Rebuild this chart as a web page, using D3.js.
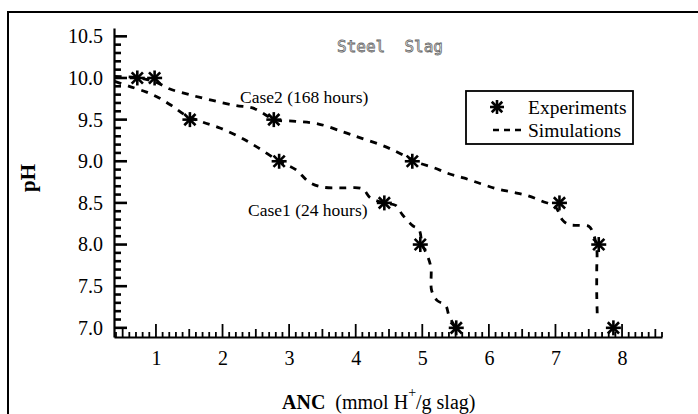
<!DOCTYPE html>
<html>
<head>
<meta charset="utf-8">
<script src="https://cdn.jsdelivr.net/npm/d3@7"></script>
<style>
	body { margin: 0; background: #fff; }
	svg { display: block; font-family: 'Liberation Serif', 'Times New Roman', serif; }
</style>
</head>
<body>
<div id="chart"></div>
<script>
// measured points (ANC, pH)
const case1Experiments = [[0.72, 10.0], [1.51, 9.5], [2.85, 9.0], [4.43, 8.5], [4.97, 8.0], [5.51, 7.0]];
const case2Experiments = [[0.98, 10.0], [2.77, 9.5], [4.85, 9.0], [7.06, 8.5], [7.65, 8.0], [7.87, 7.0]];

// simulated curves
const case1Simulation = [
	[0.38, 9.96], [0.6, 9.9], [0.86, 9.83], [1.05, 9.76], [1.25, 9.66], [1.45, 9.55],
	[1.7, 9.47], [1.96, 9.4], [2.26, 9.29], [2.52, 9.17], [2.85, 9.0], [3.1, 8.9],
	[3.3, 8.75], [3.5, 8.69], [3.8, 8.68], [4.1, 8.67], [4.22, 8.56], [4.43, 8.5],
	[4.6, 8.47], [4.7, 8.36], [4.85, 8.23], [4.95, 8.18], [5.0, 8.0], [5.08, 7.86],
	[5.13, 7.72], [5.14, 7.45], [5.22, 7.33], [5.35, 7.27], [5.4, 7.15], [5.5, 7.0]
];
const case2Simulation = [
	[0.38, 10.02], [0.75, 10.0], [1.0, 9.95], [1.2, 9.87], [1.5, 9.8], [1.85, 9.73],
	[2.2, 9.67], [2.45, 9.64], [2.62, 9.57], [2.77, 9.5], [3.1, 9.48], [3.43, 9.45],
	[3.82, 9.35], [4.07, 9.28], [4.37, 9.2], [4.6, 9.12], [4.8, 9.04], [4.95, 8.98],
	[5.18, 8.92], [5.4, 8.85], [5.62, 8.8], [5.88, 8.73], [6.12, 8.67], [6.35, 8.63],
	[6.57, 8.59], [6.8, 8.52], [7.0, 8.45], [7.1, 8.3], [7.2, 8.24], [7.35, 8.23],
	[7.5, 8.22], [7.56, 8.15], [7.62, 7.95], [7.62, 7.7], [7.62, 7.4], [7.63, 7.1]
];

const xTickValues = [1, 2, 3, 4, 5, 6, 7, 8];
const yTickValues = [7.0, 7.5, 8.0, 8.5, 9.0, 9.5, 10.0, 10.5];

const width = 698;
const height = 414;
const margin = { top: 28, right: 36, bottom: 77, left: 114 };
const serif = "'Liberation Serif', 'Times New Roman', serif";

const x = d3.scaleLinear()
	.domain([0.37, 8.6])
	.range([margin.left, width - margin.right]);

const y = d3.scaleLinear()
	.domain([6.89, 10.6])
	.range([height - margin.bottom, margin.top]);

const svg = d3.select('#chart')
	.append('svg')
	.attr('width', width)
	.attr('height', height);

// outer frame (left + top only, like the scan)
svg.append('path')
	.attr('d', `M8,${height} L8,12 L${width},12`)
	.attr('fill', 'none')
	.attr('stroke', '#000')
	.attr('stroke-width', 2);

// tick labels in the serif face, not d3's default sans
const serifTicks = g => {
	g.attr('font-family', null)
		.attr('font-size', null);
	g.selectAll('.tick text')
		.style('font-family', serif)
		.style('font-size', '20px')
		.attr('fill', '#000');
};

// x axis: ticks point inward, three sizes
const xAxis = g => {
	g.attr('transform', `translate(0, ${height - margin.bottom})`)
		.call(d3.axisBottom(x)
			.tickValues(xTickValues)
			.tickSize(0)
			.tickPadding(14)
			.tickFormat(d3.format('d'))
		)
		.call(serifTicks)
		.call(g => g.select('.domain').attr('stroke-width', 2.2));

	const minors = d3.range(4, 87).map(d => d / 10);
	g.selectAll('.minor')
		.data(minors)
		.join('line')
		.attr('class', 'minor')
		.attr('x1', d => x(d))
		.attr('x2', d => x(d))
		.attr('y1', 0)
		.attr('y2', d => {
			const r = Math.round(d * 10) % 10;
			return r === 0 ? -13 : r === 5 ? -8 : -5;
		})
		.attr('stroke', '#000')
		.attr('stroke-width', 1.8);
};

const yAxis = g => {
	g.attr('transform', `translate(${margin.left}, 0)`)
		.call(d3.axisLeft(y)
			.tickValues(yTickValues)
			.tickSize(0)
			.tickPadding(11)
			.tickFormat(d3.format('.1f'))
		)
		.call(serifTicks)
		.call(g => g.select('.domain').attr('stroke-width', 2.2));

	const minors = d3.range(70, 106).map(d => d / 10);
	g.selectAll('.minor')
		.data(minors)
		.join('line')
		.attr('class', 'minor')
		.attr('x1', 0)
		.attr('x2', d => Math.round(d * 10) % 5 === 0 ? 13 : 7)
		.attr('y1', d => y(d))
		.attr('y2', d => y(d))
		.attr('stroke', '#000')
		.attr('stroke-width', 2.6);
};

svg.append('g').call(xAxis);
svg.append('g').call(yAxis);

// dashed simulation curves
const line = d3.line()
	.x(d => x(d[0]))
	.y(d => y(d[1]))
	.curve(d3.curveCatmullRom.alpha(0.5));

[case1Simulation, case2Simulation].forEach(series => {
	svg.append('path')
		.datum(series)
		.attr('fill', 'none')
		.attr('stroke', '#000')
		.attr('stroke-width', 2.8)
		.attr('stroke-dasharray', '7,7')
		.attr('d', line);
});

// asterisk marker
const star = (g, cx, cy, r) => {
	const arms = [[r, 0], [0, r], [r * 0.75, r * 0.75], [r * 0.75, -r * 0.75]];
	arms.forEach(([dx, dy]) => {
		g.append('line')
			.attr('x1', cx - dx).attr('y1', cy - dy)
			.attr('x2', cx + dx).attr('y2', cy + dy)
			.attr('stroke', '#000')
			.attr('stroke-width', 2.6);
	});
};

const markers = svg.append('g').attr('class', 'experiments');
case1Experiments.concat(case2Experiments).forEach(d => {
	star(markers, x(d[0]), y(d[1]), 7.5);
});

// annotations
svg.append('text')
	.attr('x', 337)
	.attr('y', 52)
	.style('font-family', "'DejaVu Sans Mono', monospace")
	.style('font-size', '16px')
	.style('white-space', 'pre')
	.attr('fill', '#fff')
	.attr('stroke', '#666')
	.attr('stroke-width', 0.8)
	.text('Steel  Slag');

svg.append('text')
	.attr('x', 240)
	.attr('y', 103)
	.attr('font-size', 17.5)
	.text('Case2 (168 hours)');

svg.append('text')
	.attr('x', 248)
	.attr('y', 216)
	.attr('font-size', 17.5)
	.text('Case1 (24 hours)');

// legend
const legend = svg.append('g');
legend.append('rect')
	.attr('x', 466)
	.attr('y', 91)
	.attr('width', 167)
	.attr('height', 53)
	.attr('fill', '#fff')
	.attr('stroke', '#000')
	.attr('stroke-width', 1.8);
star(legend, 497, 107, 7);
legend.append('line')
	.attr('x1', 493).attr('x2', 521)
	.attr('y1', 130).attr('y2', 130)
	.attr('stroke', '#000')
	.attr('stroke-width', 2.4)
	.attr('stroke-dasharray', '6,5');
legend.append('text')
	.attr('x', 528).attr('y', 114)
	.attr('font-size', 19.5)
	.text('Experiments');
legend.append('text')
	.attr('x', 528).attr('y', 137)
	.attr('font-size', 19.5)
	.text('Simulations');

// axis titles
svg.append('text')
	.attr('transform', 'translate(35, 178) rotate(-90)')
	.attr('text-anchor', 'middle')
	.attr('font-size', 21)
	.attr('font-weight', 'bold')
	.text('pH');

const xTitle = svg.append('text')
	.attr('x', 282)
	.attr('y', 409)
	.attr('font-size', 20)
	.style('white-space', 'pre');
xTitle.append('tspan').attr('font-weight', 'bold').text('ANC');
xTitle.append('tspan').text('  (mmol H');
xTitle.append('tspan').attr('dy', -12).attr('font-size', 14).text('+');
xTitle.append('tspan').attr('dy', 12).text('/g slag)');
</script>
</body>
</html>
